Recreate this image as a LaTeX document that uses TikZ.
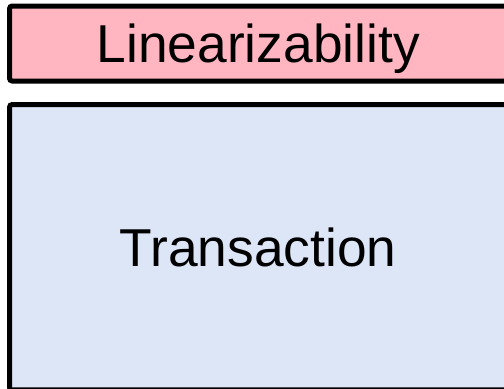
\documentclass[tikz,border=0pt]{standalone}
\usepackage{fontspec}
\setmainfont{Liberation Sans}
\definecolor{boxpink}{RGB}{255,182,193}
\definecolor{boxblue}{RGB}{220,230,247}
\tikzset{
  layerbox/.style={draw=black, line width=3.75pt, rounded corners=2pt, inner sep=0pt,
    font=\fontsize{40pt}{44pt}\selectfont, text=black, text height=28.7pt, text depth=0pt}
}
\begin{document}
\begin{tikzpicture}[x=0.75pt,y=-0.75pt]
\useasboundingbox (0,0) rectangle (504,389);
\clip (0,0) rectangle (504,389);
\node[layerbox, fill=boxpink, minimum width=373.1pt, minimum height=56.25pt] (lin) at (258.25,43.5) {Linearizability};
\node[layerbox, fill=boxblue, minimum width=373.1pt, minimum height=214.1pt] (tx) at (258.25,247.25) {Transaction};
\end{tikzpicture}
\end{document}
